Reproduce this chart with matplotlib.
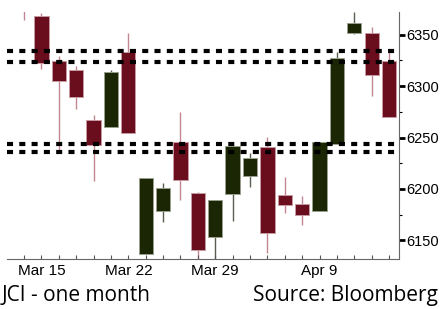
import matplotlib
matplotlib.use("Agg")
import matplotlib.pyplot as plt
from matplotlib.patches import Rectangle
from matplotlib.ticker import MultipleLocator

# ----------------------------------------------------------------- dati (JCI, candele giornaliere)
opens = [6395, 6368, 6324, 6316, 6267, 6260, 6333, 6137, 6179, 6246, 6196,
         6153, 6195, 6213, 6241, 6194, 6185, 6179, 6244, 6352, 6352, 6324]
highs = [6400, 6371, 6329, 6320, 6272, 6316, 6352, 6211, 6206, 6275, 6197,
         6189, 6242, 6235, 6251, 6212, 6193, 6246, 6333, 6372, 6357, 6336]
lows = [6364, 6317, 6237, 6278, 6208, 6260, 6254, 6137, 6168, 6189, 6130,
        6130, 6169, 6202, 6138, 6177, 6165, 6179, 6244, 6351, 6290, 6270]
closes = [6375, 6322, 6305, 6289, 6243, 6314, 6254, 6211, 6201, 6209, 6141,
          6189, 6242, 6230, 6157, 6184, 6175, 6246, 6327, 6361, 6311, 6270]

date_pos = [1, 6, 11, 17]
date_labels = ["Mar 15", "Mar 22", "Mar 29", "Apr 9"]

levels = [6334.5, 6323.2, 6244.2, 6235.5]  # resistenze / supporti

UP_BODY, UP_EDGE, UP_WICK = "#1a2604", "#9aa08e", "#5a6050"
DN_BODY, DN_EDGE, DN_WICK = "#6a0d1c", "#c79aa3", "#c48593"
W = 0.82
TICK_FONT = ["Liberation Sans Narrow", "Liberation Sans", "DejaVu Sans"]
TEXT_FONT = ["Open Sans", "DejaVu Sans"]

fig = plt.figure(figsize=(4.41, 3.09), dpi=100)
ax = fig.add_axes([0.016, 0.162, 0.889, 0.799])

for i, (o, h, l, c) in enumerate(zip(opens, highs, lows, closes)):
    up = c >= o
    ax.vlines(i, l, h, color=UP_WICK if up else DN_WICK, lw=1.0, zorder=1)
    ax.add_patch(Rectangle((i - W / 2, min(o, c)), W, abs(c - o),
                           facecolor=UP_BODY if up else DN_BODY,
                           edgecolor=UP_EDGE if up else DN_EDGE, lw=0.7, zorder=2))

for lv in levels:
    ax.axhline(lv, color="black", lw=3.0, dashes=(1.45, 1.5), zorder=3)

ax.set_xlim(-0.98, 21.58)
ax.set_ylim(6132, 6372)

ax.yaxis.tick_right()
ax.yaxis.set_major_locator(MultipleLocator(50))
ax.yaxis.set_minor_locator(MultipleLocator(25))
ax.tick_params(axis="y", which="major", length=4, width=2, direction="out",
               labelsize=10.5, pad=1.5, colors="black")
ax.tick_params(axis="y", which="minor", length=2.5, width=0.8, direction="out")

ax.set_xticks(date_pos)
ax.set_xticklabels(date_labels)
ax.set_xticks(range(len(opens)), minor=True)
ax.tick_params(axis="x", which="both", length=3, width=0.8, direction="in",
               color="#555555", labelsize=11, pad=4)
for lab in ax.get_xticklabels() + ax.get_yticklabels():
    lab.set_family(TICK_FONT)

for s in ("top", "left"):
    ax.spines[s].set_visible(False)
ax.spines["bottom"].set_color("#666666")
ax.spines["right"].set_color("#666666")

fig.text(0.004, 0.045, "JCI - one month", fontsize=15, family=TEXT_FONT,
         va="center", ha="left")
fig.text(0.993, 0.045, "Source: Bloomberg", fontsize=15, family=TEXT_FONT,
         va="center", ha="right")

fig.savefig("out.png", dpi=100)
